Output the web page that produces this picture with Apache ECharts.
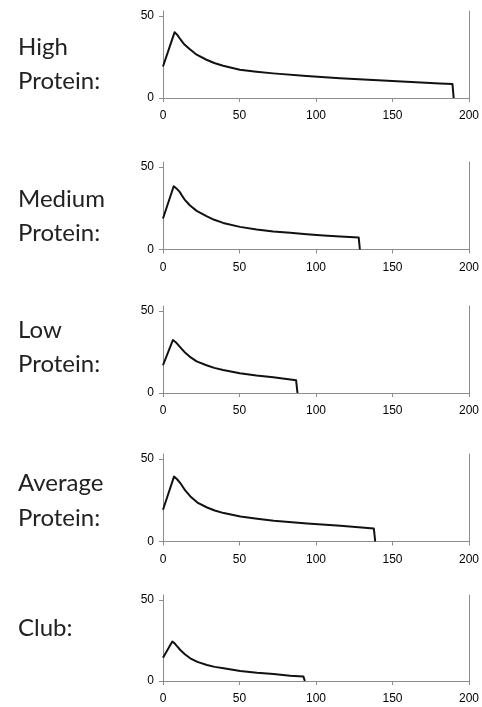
<!DOCTYPE html>
<html>
<head>
<meta charset="utf-8">
<script src="https://cdn.jsdelivr.net/npm/echarts@6/dist/echarts.min.js"></script>
<style>
  html, body { margin: 0; padding: 0; background: #fff; }
  #chart { width: 482px; height: 707px; }
</style>
</head>
<body>
<div id="chart"></div>
<script>
// Panel names (two text lines each, drawn left of every plot)
const groupLabels = [
  ['High', 'Protein:'],
  ['Medium', 'Protein:'],
  ['Low', 'Protein:'],
  ['Average', 'Protein:'],
  ['Club:']
];

// Curves: [x, y] pairs for each group, ending with the drop to zero
const highProtein = [
  [0, 19.2], [7.6, 40.1], [9.2, 38.6], [10.9, 36.4], [12.5, 34.3], [14.2, 32.4], [17.4, 29.8], [22.0, 26.4], [28.4, 23.3],
  [33.5, 21.3], [39.3, 19.6], [50.2, 17.2], [61.1, 16.0], [72.0, 15.0], [93.8, 13.4],
  [115.6, 12.1], [137.4, 10.9], [159.2, 9.9], [181.0, 8.9], [189.2, 8.5], [190, 0]
];
const mediumProtein = [
  [0, 18.8], [7.0, 38.3], [8.8, 37.0], [10.9, 34.9], [12.5, 32.5], [14.0, 30.4], [17.5, 26.8], [22.0, 23.4], [28.4, 20.2],
  [33.5, 18.0], [39.3, 16.1], [50.3, 13.7], [61.2, 12.1], [72.1, 10.9], [83.1, 10.1], [94.0, 9.3],
  [104.9, 8.5], [115.8, 7.9], [127.9, 7.3], [128.7, 0]
];
const lowProtein = [
  [0, 16.9], [6.5, 32.3], [8.5, 30.8], [10.9, 28.3], [12.5, 26.6], [14.0, 25.0], [17.4, 22.2], [22.0, 19.3], [28.4, 16.9],
  [33.5, 15.3], [39.3, 14.0], [50.2, 12.0], [61.1, 10.6], [72.0, 9.6], [87.0, 7.7], [87.9, 0]
];
const averageProtein = [
  [0, 19.2], [7.2, 39.3], [9.2, 37.7], [11.3, 35.4], [12.9, 33.2], [14.5, 31.0], [17.9, 27.3], [22.5, 23.6], [28.8, 20.6],
  [33.8, 18.8], [39.7, 17.2], [50.6, 15.2], [61.5, 13.8], [72.4, 12.6], [94.2, 10.9], [116.0, 9.5],
  [137.8, 7.9], [138.7, 0]
];
const club = [
  [0, 14.4], [6.1, 24.3], [7.6, 23.2], [9.0, 21.6], [11.3, 19.1], [14.5, 16.3], [17.8, 14.0], [22.5, 11.8], [28.7, 9.9],
  [33.8, 8.7], [39.6, 7.8], [50.5, 6.2], [61.4, 5.1], [72.3, 4.3], [83.1, 3.3], [91.8, 2.7], [92.7, 0]
];
const seriesData = [highProtein, mediumProtein, lowProtein, averageProtein, club];

// Axis ticks
const xTicks = [0, 50, 100, 150, 200];
const yTicks = [0, 50];

// Layout of the five stacked plots
const panelTop = [11, 162, 306, 454, 595];
const panelHeight = [87, 87.5, 87, 87.5, 86];
const labelLineY = [[48.5, 82.5], [200, 234], [331.5, 365.5], [484, 519], [629.5]];

const axisGray = '#8c8c8c';
const tickFont = { color: '#000', fontFamily: 'Liberation Sans, Arial, sans-serif', fontSize: 12 };

const grid = [], xAxis = [], yAxis = [], series = [], graphic = [];
seriesData.forEach((data, i) => {
  grid.push({ left: 163, width: 306, top: panelTop[i], height: panelHeight[i] });
  xAxis.push({
    type: 'value', gridIndex: i, min: 0, max: 200, interval: 50,
    axisLine: { show: true, onZero: false, lineStyle: { color: axisGray, width: 1 } },
    axisTick: { show: true, length: 4, lineStyle: { color: axisGray } },
    axisLabel: Object.assign({ margin: 12, customValues: xTicks }, tickFont),
    splitLine: { show: false }
  });
  yAxis.push({
    type: 'value', gridIndex: i, min: 0, max: 53,
    axisLine: { show: true, lineStyle: { color: axisGray, width: 1 } },
    axisTick: { show: true, length: 4, customValues: yTicks, lineStyle: { color: axisGray } },
    axisLabel: Object.assign({ margin: 9, customValues: yTicks }, tickFont),
    splitLine: { show: false }
  });
  // right-hand frame line
  yAxis.push({
    type: 'value', gridIndex: i, min: 0, max: 53, position: 'right',
    axisLine: { show: true, lineStyle: { color: axisGray, width: 1 } },
    axisTick: { show: false }, axisLabel: { show: false }, splitLine: { show: false }
  });
  series.push({
    type: 'line', xAxisIndex: i, yAxisIndex: 2 * i, data: data,
    showSymbol: false, smooth: false,
    lineStyle: { color: '#111', width: 2, join: 'round' },
    animation: false
  });
  groupLabels[i].forEach((txt, k) => {
    graphic.push({
      type: 'text', left: 18, top: labelLineY[i][k] - 13,
      style: { text: txt, fill: '#222', font: '24px Lato, "Open Sans", sans-serif' }
    });
  });
});

const chart = echarts.init(document.getElementById('chart'), null, { renderer: 'canvas' });
chart.setOption({
  animation: false,
  backgroundColor: '#fff',
  grid, xAxis, yAxis, series, graphic
});
</script>
</body>
</html>
